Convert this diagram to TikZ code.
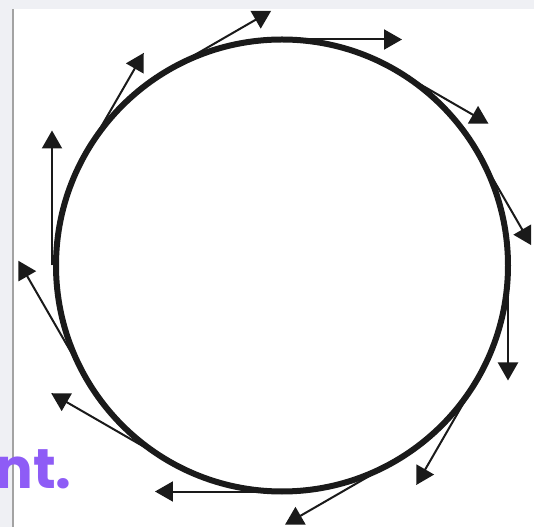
\documentclass[tikz,border=0pt]{standalone}
\usepackage{fontspec}
\newfontfamily\brandfont{Poppins}
\usepackage{xcolor}
\definecolor{inkBlack}{HTML}{1A1A1A}
\definecolor{frameGray}{HTML}{EFF0F4}
\definecolor{frameLine}{HTML}{A3A3A3}
\definecolor{accentViolet}{HTML}{8E5CF6}
\usetikzlibrary{arrows.meta}
\tikzset{
  >={Triangle[length=13.5pt,width=15pt]},
  wheel/.style={circle,draw=inkBlack,line width=4.5pt,minimum size=339pt,inner sep=0pt,outer sep=0pt},
  velocity/.style={->,draw=inkBlack,line width=1.5pt},
  tagtext/.style={font=\brandfont\bfseries\fontsize{42}{42}\selectfont,text=accentViolet,inner sep=0pt},
}

\begin{document}
\begin{tikzpicture}[x=0.75pt,y=0.75pt]
  \clip (-282,-261.5) rectangle (260,265.5);
  \fill[white] (-282,-261.5) rectangle (260,265.5);
  \fill[frameGray] (-282,-261.5) rectangle (-269.5,265.5);
  \fill[frameGray] (-282,256.5) rectangle (252,265.5);
  \draw[frameLine, line width=1.2pt] (-269.2,-261.5) -- (-269.2,256.5);

  \node[wheel] (wheel) at (0,0) {};

  \draw[velocity] (wheel.90) -- +(0:120);
  \draw[velocity] (wheel.60) -- +(-30:108);
  \draw[velocity] (wheel.30) -- +(-60:107);
  \draw[velocity] (wheel.0) -- +(-90:115);
  \draw[velocity] (wheel.-30) -- +(-120:123);
  \draw[velocity] (wheel.-60) -- +(-150:127);
  \draw[velocity] (wheel.-90) -- +(180:127);
  \draw[velocity] (wheel.-120) -- +(150:136);
  \draw[velocity] (wheel.-150) -- +(120:136);
  \draw[velocity] ([xshift=-3pt]wheel.180) -- +(90:135);
  \draw[velocity] (wheel.150) -- +(60:115);
  \draw[velocity] (wheel.120) -- +(30:118);

  \node[tagtext, anchor=base east] (tag) at (-210,-222.5) {nt.};
\end{tikzpicture}
\end{document}
